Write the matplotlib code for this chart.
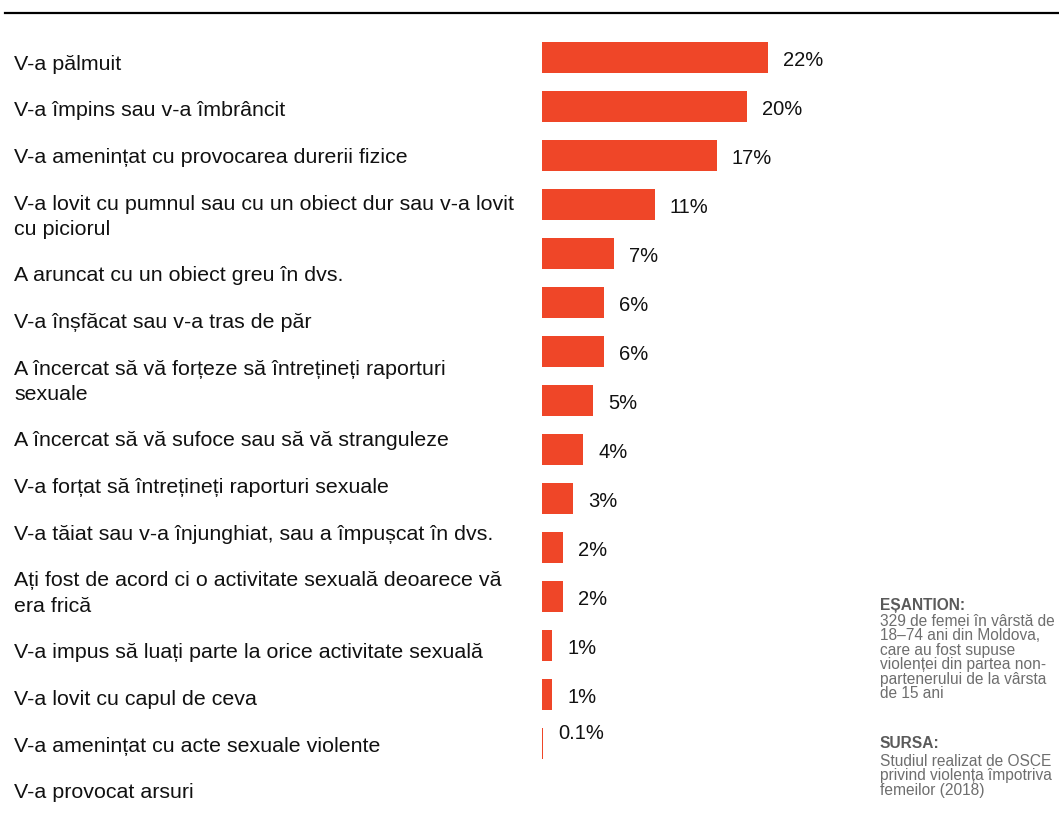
import matplotlib
matplotlib.use("Agg")
import matplotlib.pyplot as plt
from matplotlib.lines import Line2D

plt.rcParams['font.family'] = ['Liberation Sans', 'DejaVu Sans']

# ---------------- data ----------------
categories = [
    "V-a pălmuit",
    "V-a împins sau v-a îmbrâncit",
    "V-a amenințat cu provocarea durerii fizice",
    "V-a lovit cu pumnul sau cu un obiect dur sau v-a lovit\ncu piciorul",
    "A aruncat cu un obiect greu în dvs.",
    "V-a înșfăcat sau v-a tras de păr",
    "A încercat să vă forțeze să întrețineți raporturi\nsexuale",
    "A încercat să vă sufoce sau să vă stranguleze",
    "V-a forțat să întrețineți raporturi sexuale",
    "V-a tăiat sau v-a înjunghiat, sau a împușcat în dvs.",
    "Ați fost de acord ci o activitate sexuală deoarece vă\nera frică",
    "V-a impus să luați parte la orice activitate sexuală",
    "V-a lovit cu capul de ceva",
    "V-a amenințat cu acte sexuale violente",
    "V-a provocat arsuri",
]
values = [22, 20, 17, 11, 7, 6, 6, 5, 4, 3, 2, 2, 1, 1, 0.1]
value_labels = ["22%", "20%", "17%", "11%", "7%", "6%", "6%", "5%", "4%",
                "3%", "2%", "2%", "1%", "1%", "0.1%"]

note_sample_title = "EȘANTION:"
note_sample_text = ("329 de femei în vârstă de\n18–74 ani din Moldova,\ncare au fost supuse\n"
                    "violenței din partea non-\npartenerului de la vârsta\nde 15 ani")
note_source_title = "SURSA:"
note_source_text = "Studiul realizat de OSCE\nprivind violența împotriva\nfemeilor (2018)"

# ---------------- layout ----------------
W, H = 1059, 816
fig = plt.figure(figsize=(W / 100, H / 100), dpi=100)

bar_color = "#EF4628"
n = len(values)
px_per_unit = 10.27
ax_left, ax_right = 542, 1000
row_pitch = 49.07
ax_top = 57 - row_pitch / 2
ax_bottom = ax_top + row_pitch * n
ax = fig.add_axes([ax_left / W, 1 - ax_bottom / H, (ax_right - ax_left) / W,
                   (ax_bottom - ax_top) / H])
ax.set_xlim(0, (ax_right - ax_left) / px_per_unit)
ax.set_ylim(n - 0.5, -0.5)
ax.axis("off")

ypos = list(range(n))
ax.barh(ypos, values, height=31 / row_pitch, color=bar_color, linewidth=0)

for i, (v, lab) in enumerate(zip(values, value_labels)):
    dy = -3 if v >= 1 else 10
    ax.annotate(lab, xy=(v, i), xytext=(15 * 0.72, dy * 0.72),
                textcoords="offset points", ha="left", va="center",
                fontsize=14.5, color="#111111")

# left category labels: flowing text list
pitch = 46.7
line_gap = 25
y = 63 + 6.5
for cat in categories:
    extra = cat.count("\n") * line_gap
    fig.text(14 / W, 1 - (y + extra) / H, cat, ha="left", va="baseline",
             fontsize=15.4, color="#111111", linespacing=1.4)
    y += extra + pitch

# top rule
fig.add_artist(Line2D([5 / W, 1], [1 - 13 / H, 1 - 13 / H], color="black", lw=1.6))

# notes
nx = 880 / W
note_fs = 11.2
fig.text(nx, 1 - 598 / H, note_sample_title, ha="left", va="top", fontsize=note_fs,
         fontweight="bold", color="#5a5a5a")
fig.text(nx, 1 - 614 / H, note_sample_text, ha="left", va="top", fontsize=note_fs,
         color="#6e6e6e", linespacing=0.95)
fig.text(nx, 1 - 736 / H, note_source_title, ha="left", va="top", fontsize=note_fs,
         fontweight="bold", color="#5a5a5a")
fig.text(nx, 1 - 754 / H, note_source_text, ha="left", va="top", fontsize=note_fs,
         color="#6e6e6e", linespacing=0.95)

fig.savefig("out.png", dpi=100, facecolor="white")
